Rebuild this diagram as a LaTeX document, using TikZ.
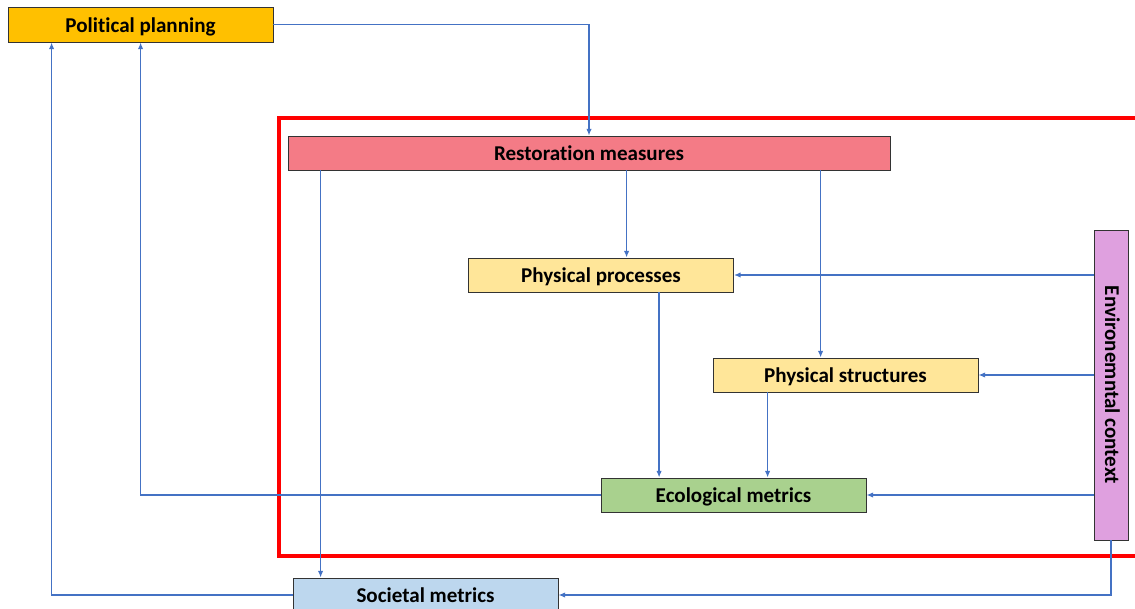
\documentclass[tikz,border=0pt]{standalone}
\usepackage{fontspec}
\setmainfont[Ligatures=NoCommon]{Carlito}
\usepackage{xcolor}
\usepackage{graphicx}
\usepackage{tikz}
\usetikzlibrary{calc}
\usetikzlibrary{arrows.meta}
\usetikzlibrary{positioning}
\definecolor{planc}{HTML}{FFC000}
\definecolor{restc}{HTML}{F47B86}
\definecolor{physc}{HTML}{FFE699}
\definecolor{ecoc}{HTML}{A9D18E}
\definecolor{socc}{HTML}{BDD7EE}
\definecolor{envc}{HTML}{DFA0DF}
\definecolor{flowc}{HTML}{4472C4}
\tikzset{>={Latex[length=5pt,width=4pt]}}
\tikzset{box/.style = {draw=black!80, line width=0.6pt, inner sep=0, font=\bfseries\fontsize{15.8}{18}\selectfont, text height=11.7pt, text depth=0pt, minimum width=198.75pt, minimum height=25.5pt}}
\tikzset{flow/.style = {->, draw=flowc, line width=1.3pt}}

\begin{document}
\begin{tikzpicture}[x=0.75pt, y=-0.75pt]
\useasboundingbox (0,0) rectangle (1135,609);
% frame round the restoration part
\draw [red, line width=2.3pt] (279,118) rectangle (1145,556);
\node [box, fill=planc, minimum height=26.25pt] (pol) at (140.5, 24.5) {Political planning};
\node [box, fill=restc, minimum width=451.5pt] (rest) at (589, 153) {Restoration measures};
\node [box, fill=physc] (proc) at (601, 275) {Physical processes};
\node [box, fill=physc] (struc) at (845.5, 375) {Physical structures};
\node [box, fill=ecoc] (eco) at (733.5, 495) {Ecological metrics};
\node [box, fill=socc] (soc) at (425.5, 595) {Societal metrics};
\node [box, fill=envc, minimum width=25.5pt, minimum height=232.5pt, text height=, text depth=] (env) at (1111, 385) {\rotatebox{-90}{\rule[-3pt]{0pt}{14.7pt}Environemntal context}};
\coordinate (q1) at ($(pol.south west)+(44,0)$);
\coordinate (q2) at ($(pol.south west)+(133,0)$);
\coordinate (r1) at ($(rest.south west)+(33,0)$);
\coordinate (r2) at ($(rest.south west)+(339,0)$);
\coordinate (r3) at ($(rest.south west)+(533,0)$);
\coordinate (p1) at ($(proc.south west)+(191,0)$);
\coordinate (s1) at ($(struc.south west)+(55,0)$);
\draw [flow] (pol.east) -| (rest.north);
\draw [flow] (r1) -- (r1 |- soc.north);
\draw [flow] (r2) -- (r2 |- proc.north);
\draw [flow] (r3) -- (r3 |- struc.north);
\draw [flow] (p1) -- (p1 |- eco.north);
\draw [flow] (s1) -- (s1 |- eco.north);
\draw [flow] (env.west |- proc.east) -- (proc.east);
\draw [flow] (env.west |- struc.east) -- (struc.east);
\draw [flow] (env.west |- eco.east) -- (eco.east);
\draw [flow] (env.south) |- (soc.east);
\draw [flow] (eco.west) -| (q2);
\draw [flow] (soc.west) -| (q1);
\end{tikzpicture}
\end{document}
